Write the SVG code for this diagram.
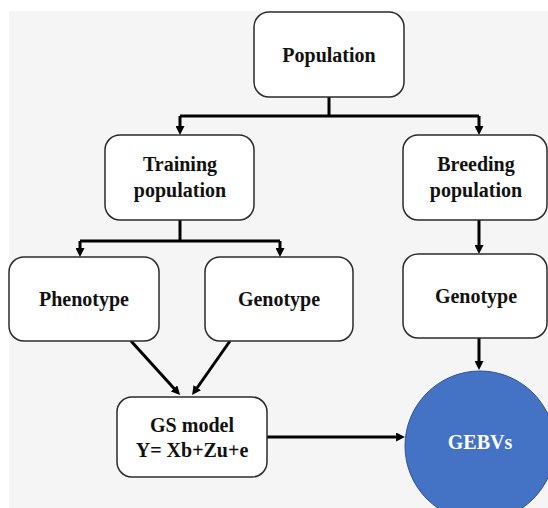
<svg xmlns="http://www.w3.org/2000/svg" width="548" height="508" viewBox="0 0 548 508">
  <style>
    .box { fill: #ffffff; stroke: #2b2b2b; stroke-width: 1.5; }
    .label { font-family: "Liberation Serif", "Times New Roman", serif; font-weight: bold; font-size: 20px; fill: #111111; text-anchor: middle; }
    .light { fill: #ffffff; }
    .wire { fill: none; stroke: #000000; stroke-width: 3; }
    .flow { fill: none; stroke: #000000; stroke-width: 3; marker-end: url(#head); }
  </style>
  <defs>
    <marker id="head" viewBox="0 0 10 10" markerWidth="9" markerHeight="9" refX="0.5" refY="5" orient="auto" markerUnits="userSpaceOnUse">
      <path d="M0,0 L10,5 L0,10 z" fill="#000000"/>
    </marker>
  </defs>

  <!-- page and panel -->
  <rect x="0" y="0" width="548" height="508" fill="#ffffff"/>
  <rect x="9" y="11" width="539" height="497" fill="#f5f5f5"/>

  <!-- connectors -->
  <g id="connectors">
    <polyline class="wire" points="329,97 329,116"/>
    <polyline class="wire" points="180,116 479,116"/>
    <line class="flow" x1="180" y1="116" x2="180" y2="126.5"/>
    <line class="flow" x1="479" y1="116" x2="479" y2="126.5"/>

    <polyline class="wire" points="180,220 180,241"/>
    <polyline class="wire" points="80,241 280,241"/>
    <line class="flow" x1="80" y1="241" x2="80" y2="248.5"/>
    <line class="flow" x1="280" y1="241" x2="280" y2="248.5"/>

    <line class="flow" x1="479" y1="220" x2="479" y2="245.5"/>
    <line class="flow" x1="479" y1="338" x2="479" y2="361.5"/>

    <line class="flow" x1="131" y1="341" x2="174.3" y2="388.7"/>
    <line class="flow" x1="230" y1="341" x2="197" y2="388"/>

    <line class="flow" x1="267" y1="437" x2="396.5" y2="437"/>
  </g>

  <!-- nodes -->
  <g id="population">
    <rect class="box" x="254" y="12" width="150" height="85" rx="15"/>
    <text class="label" x="329" y="62">Population</text>
  </g>

  <g id="training-population">
    <rect class="box" x="105" y="135" width="149" height="85" rx="15"/>
    <text class="label" x="180" y="171">Training</text>
    <text class="label" x="180" y="197">population</text>
  </g>

  <g id="breeding-population">
    <rect class="box" x="403" y="135" width="144" height="85" rx="15"/>
    <text class="label" x="476" y="171">Breeding</text>
    <text class="label" x="476" y="197">population</text>
  </g>

  <g id="phenotype">
    <rect class="box" x="9" y="257" width="150" height="84" rx="15"/>
    <text class="label" x="84" y="306">Phenotype</text>
  </g>

  <g id="genotype-training">
    <rect class="box" x="205" y="257" width="148" height="84" rx="15"/>
    <text class="label" x="279" y="306">Genotype</text>
  </g>

  <g id="genotype-breeding">
    <rect class="box" x="403" y="254" width="144" height="84" rx="15"/>
    <text class="label" x="476" y="303">Genotype</text>
  </g>

  <g id="gs-model">
    <rect class="box" x="117" y="397" width="150" height="80" rx="15"/>
    <text class="label" x="192" y="432">GS model</text>
    <text class="label" x="192" y="457">Y= Xb+Zu+e</text>
  </g>

  <g id="gebvs">
    <circle cx="480" cy="446" r="75" fill="#4472c4" stroke="#2f528f" stroke-width="1"/>
    <text class="label light" x="480" y="449">GEBVs</text>
  </g>
</svg>
